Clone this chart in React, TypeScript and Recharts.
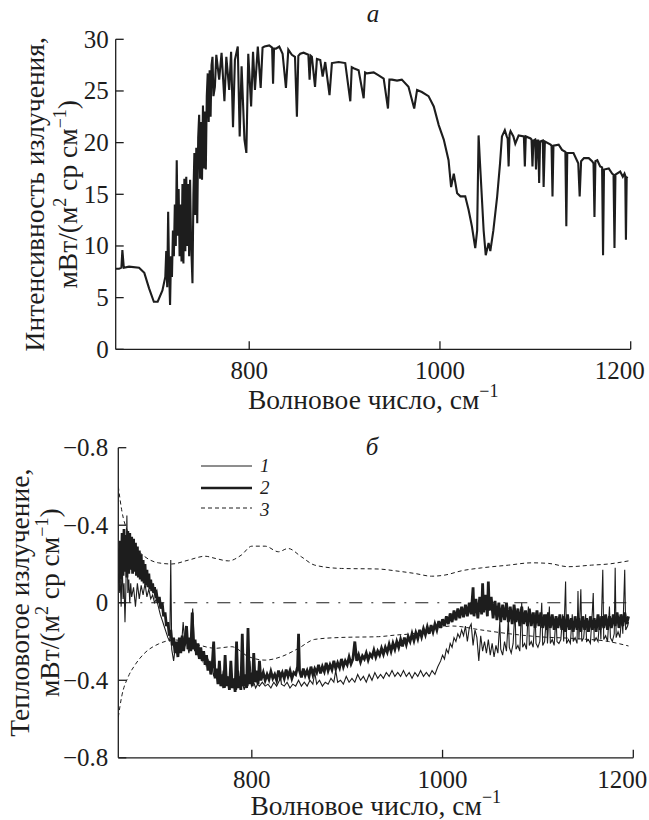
import React from 'react';
import { LineChart, Line, XAxis, YAxis } from 'recharts';

// panel a: radiance spectrum
const topWave = [
  660, 663.5, 666, 667, 668.5, 674, 684.5, 690, 695, 700, 704, 709,
  712, 713, 714, 715, 716, 717, 718, 719, 720, 721, 722, 723, 724, 725, 726, 727, 728, 729, 730,
  731, 732, 733, 734, 735, 736, 737, 738, 739, 740.5, 741.5, 742.5, 743.5, 744.5, 745.5, 746.5,
  747.5, 748.5, 749.5, 750.5, 751.5, 752.5, 753.5, 754.5, 755.5, 756.5, 757.5, 758.5, 759.5, 760.5,
  761.5, 762.5, 764, 765.5, 768.5, 771, 774, 776, 779, 781, 783, 785, 788, 790, 792, 795, 797, 799,
  802, 804, 806, 809, 812, 814, 816, 821, 824, 825, 826, 828, 831.5, 835, 838.5, 841, 844.7, 848,
  850, 851.5, 853.5, 857, 862, 863.3, 864.5, 865.7, 869, 871, 874.5, 877, 879.7, 884.2, 886.7,
  893.7, 900.7, 906, 907.5, 909.5, 914.7, 920, 921.5, 923.5, 930.5, 935.7, 941, 945.5, 947, 949.7,
  955, 960, 967, 973, 976, 981, 988, 993.5, 998.7, 1004, 1009, 1011.7, 1014.5, 1018, 1021.5,
  1026.5, 1030, 1033.5, 1037, 1039, 1040.5, 1042, 1045.8, 1048, 1051, 1052.8, 1056, 1060, 1063,
  1065, 1068, 1070, 1071, 1072, 1073, 1074, 1077, 1079, 1082.5, 1088, 1089, 1090, 1095, 1096, 1097,
  1098, 1099.8, 1100.7, 1102, 1103, 1104, 1105, 1107.8, 1108.7, 1110, 1116, 1117, 1118, 1119,
  1124.5, 1128, 1131.5, 1132.5, 1133.5, 1140, 1144, 1145, 1146.5, 1148, 1151, 1156, 1159.5, 1161,
  1162, 1163, 1165, 1168, 1170, 1171, 1172, 1177, 1180.5, 1182, 1183, 1184, 1189, 1191.7, 1193.5,
  1194.3, 1195, 1195.8, 1196.6,
];
const topIntensity = [
  7.8, 7.8, 7.9, 9.6, 7.9, 8.0, 7.9, 7.4, 5.9, 4.6, 4.6, 5.7,
  7.0, 9.5, 6.0, 13.3, 7.5, 4.3, 9.0, 7.0, 11.5, 9.0, 14.0, 10.0, 18.3, 11.0, 15.5, 9.0, 14.0, 8.5, 16.0,
  8.3, 16.5, 9.5, 16.7, 10.0, 16.0, 9.0, 16.4, 10.5, 6.4, 15.0, 19.0, 13.0, 19.5, 12.2, 20.5,
  22.7, 16.5, 22.0, 16.4, 23.6, 17.5, 23.0, 17.4, 24.5, 26.7, 22.0, 27.0, 22.5, 27.5,
  28.3, 24.5, 25.4, 28.5, 26.1, 28.7, 24.0, 28.3, 25.1, 28.8, 21.5, 28.0, 29.3, 20.6, 27.4, 20.3, 19.0, 28.6,
  23.5, 28.8, 25.1, 29.3, 25.3, 29.2, 29.3, 29.4, 29.2, 25.7, 29.1, 29.1, 29.3, 28.6, 25.3, 29.0, 28.5, 28.3,
  22.5, 28.4, 28.6, 28.7, 28.5, 26.1, 28.4, 28.3, 25.4, 28.1, 28.0, 26.4, 27.8, 24.6, 27.7,
  27.8, 27.7, 24.0, 27.3, 27.2, 27.0, 24.3, 26.8, 26.7, 26.8, 26.5, 26.2, 23.3, 26.1, 26.1,
  26.0, 26.1, 25.4, 23.3, 25.1, 24.9, 24.5, 23.5, 21.7, 20.3, 18.3, 15.7, 17.0, 15.1, 14.8,
  14.8, 13.5, 11.9, 9.8, 11.5, 20.7, 18.0, 11.5, 9.1, 10.3, 9.5, 11.5, 14.8, 18.0,
  20.6, 21.2, 20.6, 20.4, 17.7, 20.8, 21.1, 20.6, 19.9, 20.7, 20.6, 17.7, 20.6, 20.4, 20.3, 17.7,
  20.2, 20.3, 17.4, 20.2, 20.2, 16.1, 20.1, 20.2, 15.7, 20.1, 19.8, 19.7, 14.8, 19.7,
  19.8, 19.3, 19.1, 11.9, 19.0, 19.0, 18.2, 18.0, 14.8, 18.2, 18.5, 18.5, 18.2, 18.0,
  12.8, 18.2, 18.3, 17.7, 17.6, 9.1, 17.4, 17.5, 17.0, 16.9, 9.8, 16.9, 17.2, 16.7, 17.0,
  16.8, 10.6, 16.6, 16.7,
];

// panel б: curve 1 (thin)
const curve1Wave = [
  660, 661, 662, 663, 664, 665, 666, 667, 668, 669, 670, 671, 672, 673, 674, 676, 678, 680, 682, 684,
  686, 688, 690, 692, 694, 696, 698, 700, 702, 704, 706, 708, 710, 712, 714, 715, 716, 718, 720, 722,
  724, 726, 728, 730, 732, 734, 736, 738, 740, 742, 744, 746, 748, 750, 752, 754, 756, 758, 760, 762,
  764, 766, 768, 770, 772, 774, 776, 778, 780, 782, 784, 786, 788, 790, 792, 794, 796, 798, 800, 802,
  804, 806, 808, 811, 814, 817, 820, 823, 826, 829, 830, 831, 834, 837, 840, 843, 846, 849, 852, 855,
  858, 861, 864, 866, 868, 871, 874, 877, 880, 883, 886, 888, 890, 893, 896, 899, 902, 905, 908, 911,
  914, 917, 920, 923, 926, 929, 932, 935, 938, 941, 944, 947, 950, 953, 956, 959, 962, 965, 968, 971,
  974, 977, 980, 983, 986, 989, 992, 995, 998, 1000, 1002, 1004, 1006, 1008, 1010, 1012, 1014, 1016,
  1018, 1020, 1022, 1024, 1026, 1028, 1030, 1032, 1034, 1036, 1038, 1040, 1042, 1044, 1046, 1048,
  1050, 1052, 1054, 1056, 1058, 1060, 1061, 1063, 1065, 1067, 1069, 1070, 1072, 1074, 1076, 1077,
  1079, 1081, 1083, 1084, 1086, 1088, 1090, 1091, 1093, 1095, 1097, 1098, 1100, 1102, 1104, 1105,
  1107, 1109, 1110, 1112, 1113, 1115, 1117, 1119, 1120, 1122, 1124, 1126, 1127, 1129, 1130, 1132,
  1134, 1136, 1137, 1139, 1141, 1142, 1143, 1145, 1146, 1148, 1150, 1151, 1153, 1155, 1157, 1158,
  1159, 1161, 1163, 1165, 1166, 1168, 1169, 1171, 1173, 1175, 1176, 1178, 1180, 1181, 1182, 1184,
  1186, 1188, 1189, 1191, 1192, 1194, 1195,
];
const curve1Value = [
  0.15, 0.05, 0.12, -0.02, 0.24, 0.02, 0.1, -0.1, 0.08, 0.45, 0.05, 0.12, 0.0, 0.1, 0.03, 0.08, -0.02, 0.1, 0.02, 0.09,
  0.04, 0.1, 0.03, 0.07, 0.02, 0.04, 0.0, 0.02, -0.02, -0.06, -0.09, -0.12, -0.15, -0.18, -0.2, 0.22, -0.24, -0.3, -0.22, -0.27,
  -0.2, -0.24, -0.1, -0.22, -0.2, -0.26, -0.21, -0.03, -0.25, -0.22, -0.28, -0.25, -0.3, -0.27, -0.32, -0.29, -0.35, -0.32, -0.38, -0.34,
  -0.4, -0.36, -0.43, -0.35, -0.44, -0.38, -0.43, -0.32, -0.44, -0.4, -0.45, -0.35, -0.43, -0.41, -0.45, -0.4, -0.43, -0.3, -0.43, -0.41,
  -0.44, -0.42, -0.43, -0.41, -0.43, -0.42, -0.44, -0.41, -0.43, -0.4, -0.36, -0.42, -0.43, -0.41, -0.44, -0.42, -0.43, -0.4, -0.43, -0.41,
  -0.43, -0.4, -0.42, -0.36, -0.42, -0.4, -0.43, -0.41, -0.42, -0.39, -0.41, -0.35, -0.41, -0.4, -0.42, -0.38, -0.41, -0.39, -0.41, -0.37,
  -0.4, -0.38, -0.41, -0.37, -0.4, -0.36, -0.39, -0.37, -0.39, -0.36, -0.38, -0.35, -0.38, -0.36, -0.38, -0.35, -0.38, -0.36, -0.39, -0.36,
  -0.38, -0.35, -0.38, -0.36, -0.38, -0.35, -0.37, -0.33, -0.3, -0.27, -0.29, -0.24, -0.26, -0.21, -0.23, -0.18, -0.2, -0.16,
  -0.18, -0.14, -0.17, -0.12, -0.2, -0.13, -0.11, -0.22, -0.14, -0.18, -0.3, -0.17, -0.25, -0.2, -0.26, -0.19,
  -0.27, -0.21, -0.28, -0.22, -0.26, -0.1, -0.24, -0.27, -0.2, -0.25, -0.08, -0.23, -0.26, -0.21, -0.03, -0.24,
  -0.22, -0.25, 0.0, -0.23, -0.21, -0.24, -0.02, -0.22, -0.2, -0.23, -0.05, -0.21, -0.23, -0.2, 0.0, -0.22,
  -0.2, -0.06, -0.21, -0.02, -0.21, -0.19, -0.22, -0.07, -0.2, -0.21, -0.19, -0.06, -0.2, 0.11, -0.21, -0.19,
  -0.21, -0.06, -0.2, -0.18, -0.21, 0.06, -0.19, 0.07, -0.2, -0.18, -0.06, -0.2, -0.19, -0.21, -0.05, 0.05,
  -0.2, -0.18, -0.2, -0.07, -0.19, 0.17, -0.19, -0.17, -0.2, -0.02, -0.18, -0.2, -0.16, 0.18, -0.18, -0.15,
  -0.18, -0.06, -0.16, 0.17, -0.14, -0.12, -0.1,
];

// panel б: curve 2 (thick)
const curve2Wave = [
  660, 661, 662, 663, 664, 665, 666, 667, 668, 669, 670, 671, 672, 673, 674, 675, 676, 677, 678, 679,
  680, 681, 682, 683, 684, 685, 686, 687, 688, 689, 690, 691, 692, 693, 694, 695, 696, 697, 698, 699,
  700, 701.5, 703, 704.5, 706, 707.5, 709, 710.5, 712, 713.5, 715, 716.5, 718, 719.5, 721, 722.5, 724,
  725.5, 727, 728.5, 730, 731.5, 733, 734.5, 736, 737.5, 739, 740.5, 742, 743.5, 745, 746.5, 748, 749.5,
  751, 752.5, 754, 755.5, 757, 758.5, 760, 761.5, 763, 764.5, 766, 767.5, 769, 770.5, 772, 773.5, 775,
  776.5, 778, 779.5, 781, 782.5, 784, 785.5, 787, 788.5, 790, 791.5, 793, 794.5, 796, 797.5, 799, 800.5,
  802, 803.5, 805, 806.5, 808, 809.5,
  812, 814, 816, 818, 820, 822, 824, 826, 828, 830, 832, 834, 836, 838, 840, 842, 844, 846, 848, 849,
  850, 852, 854, 856, 858, 860, 862, 864, 866, 868, 870, 872, 874, 876, 878, 880, 882, 884, 886, 888,
  890, 892, 894, 896, 898, 900, 902, 904, 906, 908, 910, 912, 914, 916, 918, 920, 922, 924, 926, 928,
  930, 932, 934, 936, 938, 940, 942, 944, 946, 948, 950, 952, 954, 956, 958, 960, 962, 964, 966, 968,
  970, 972, 974, 976, 978, 980, 982, 984, 986, 988, 990, 992, 994, 996, 998, 1000, 1002, 1004, 1006, 1008,
  1010, 1012, 1014, 1016, 1018, 1020, 1022, 1024, 1026, 1028, 1030, 1032, 1033, 1035, 1037, 1039, 1041,
  1042, 1043, 1045, 1047, 1048, 1049, 1051, 1053, 1055, 1057, 1059, 1061, 1063, 1065, 1067, 1069, 1071,
  1073, 1075, 1077, 1079, 1081, 1083, 1085, 1087, 1089, 1091, 1093, 1095, 1097, 1099, 1101, 1103, 1105,
  1107, 1109, 1111, 1113, 1115, 1117, 1119, 1121, 1123, 1125, 1127, 1129, 1131, 1133, 1135, 1137, 1139,
  1141, 1143, 1145, 1147, 1149, 1151, 1153, 1155, 1157, 1159, 1161, 1163, 1165, 1167, 1169, 1171, 1173,
  1175, 1177, 1179, 1181, 1183, 1185, 1187, 1189, 1191, 1193, 1195,
];
const curve2Value = [
  0.28, 0.1, 0.32, 0.12, 0.36, 0.14, 0.38, 0.16, 0.35, 0.13, 0.37, 0.15, 0.36, 0.17, 0.34, 0.15, 0.33, 0.16, 0.31, 0.14,
  0.29, 0.13, 0.27, 0.12, 0.25, 0.11, 0.22, 0.1, 0.2, 0.09, 0.17, 0.08, 0.15, 0.07, 0.12, 0.06, 0.1, 0.05, 0.08, 0.04,
  0.05, 0.0, 0.03, -0.03, 0.0, -0.07, -0.05, -0.12, -0.1, -0.17, -0.14, -0.22, -0.18, -0.26, -0.2, -0.28, -0.18,
  -0.26, -0.17, -0.25, -0.19, -0.12, -0.24, -0.18, -0.25, -0.05, -0.24, -0.19, -0.27, -0.21, -0.29, -0.23, -0.3, -0.25,
  -0.32, -0.27, -0.35, -0.3, -0.37, -0.32, -0.2, -0.39, -0.34, -0.42, -0.3, -0.43, -0.37, -0.44, -0.27, -0.43, -0.38,
  -0.45, -0.3, -0.44, -0.39, -0.46, -0.2, -0.44, -0.38, -0.45, -0.16, -0.43, -0.37, -0.44, -0.13, -0.42, -0.36, -0.43,
  -0.26, -0.41, -0.35, -0.42, -0.3, -0.4,
  -0.36, -0.4, -0.37, -0.395, -0.355, -0.39, -0.37, -0.4, -0.35, -0.385, -0.36, -0.39, -0.345, -0.38, -0.35, -0.39, -0.36, -0.37, -0.33, -0.16,
  -0.35, -0.385, -0.34, -0.375, -0.35, -0.38, -0.33, -0.37, -0.34, -0.36, -0.32, -0.365, -0.33, -0.355, -0.31, -0.35, -0.32, -0.345, -0.3, -0.34,
  -0.31, -0.335, -0.29, -0.33, -0.3, -0.32, -0.28, -0.315, -0.29, -0.2, -0.3, -0.27, -0.305, -0.275, -0.29, -0.26, -0.295, -0.265, -0.28, -0.245,
  -0.28, -0.25, -0.27, -0.235, -0.265, -0.23, -0.255, -0.215, -0.25, -0.21, -0.24, -0.2, -0.23, -0.19, -0.225, -0.18, -0.215, -0.175, -0.2, -0.16,
  -0.195, -0.155, -0.185, -0.14, -0.175, -0.135, -0.165, -0.125, -0.16, -0.115, -0.15, -0.11, -0.14, -0.095, -0.13, -0.085, -0.12, -0.07, -0.11, -0.055,
  -0.1, -0.04, -0.09, -0.03, -0.08, -0.02, -0.075, -0.01, -0.07, 0.0, -0.06, 0.08, -0.07, 0.02, -0.08, 0.03, -0.06,
  0.1, -0.05, 0.04, -0.07, 0.11, -0.04, 0.03, -0.08, 0.01, -0.09, 0.0, -0.1, -0.01, -0.09, 0.0, -0.1, -0.02,
  -0.11, -0.01, -0.1, -0.03, -0.12, -0.02, -0.11, -0.04, -0.12, -0.03, -0.12, -0.05, -0.13, -0.04, -0.12, -0.05, -0.13,
  -0.06, -0.14, -0.05, -0.13, -0.06, -0.14, -0.07, -0.13, -0.06, -0.14, -0.07, -0.15, -0.06, -0.14, -0.08, -0.15, -0.07,
  -0.14, -0.08, -0.15, -0.07, -0.14, -0.08, -0.15, -0.07, -0.14, -0.08, -0.15, -0.06, -0.14, -0.07, -0.13, -0.06, -0.14,
  -0.07, -0.13, -0.06, -0.12, -0.05, -0.13, -0.06, -0.12, -0.05, -0.11, -0.07,
];

// panel б: curves 3 (upper and lower dashed)
const bandUpperWave = [
  660, 663.5, 670.5, 677.5, 688, 702, 716, 733.5, 751, 761.5, 775.5, 789, 800, 814, 828, 838, 852,
  866, 894, 933, 950, 971, 988.6, 1002.6, 1020, 1041, 1069, 1093.5, 1111, 1132, 1156, 1174, 1195,
];
const bandUpperValue = [
  0.6, 0.48, 0.357, 0.289, 0.237, 0.206, 0.2, 0.22, 0.24, 0.229, 0.216, 0.246, 0.292, 0.292, 0.263, 0.28, 0.237,
  0.194, 0.177, 0.174, 0.165, 0.151, 0.137, 0.143, 0.165, 0.18, 0.194, 0.206, 0.203, 0.186, 0.194, 0.2, 0.216,
];
const bandLowerWave = [
  660, 663.5, 670.5, 677.5, 688, 702, 719.5, 744, 761.5, 779, 796.5, 814, 831, 849, 866, 894, 933,
  950, 971, 985, 1010, 1040, 1070, 1100, 1140, 1174, 1195,
];
const bandLowerValue = [
  -0.59, -0.485, -0.381, -0.321, -0.258, -0.213, -0.192, -0.218, -0.235, -0.227, -0.278, -0.296, -0.278, -0.235, -0.189, -0.179, -0.175,
  -0.167, -0.158, -0.141, -0.12, -0.14, -0.16, -0.175, -0.185, -0.2, -0.223,
];
const zeroWave = [660, 1195];
const zeroValue = [0, 0];

const xTicks = [800, 1000, 1200];
const topYTicks = [0, 5, 10, 15, 20, 25, 30];
const bottomYTicks = [-0.8, -0.4, 0, 0.4, 0.8];
const legendLabels = ['1', '2', '3'];

const rows = (xs: number[], ys: number[]) => xs.map((w, i) => ({ w, v: ys[i] }));

const FONT = "'Liberation Serif', 'Times New Roman', serif";
const INK = '#1d1d1d';
const FS = 25;
const TITLE_FS = 27.5;

const fmtBottom = (v: number) => (v === 0 ? '0' : '\u2212' + Math.abs(v).toFixed(1));

const YTick = (props: any) => {
  const { x, y, payload, gap, fmt } = props;
  return (
    <g>
      <line x1={x} x2={x + 8} y1={y} y2={y} stroke={INK} strokeWidth={1.3} />
      <text x={x - gap} y={y + 8.5} textAnchor="end" fontFamily={FONT} fontSize={FS} fill={INK}>
        {fmt ? fmt(payload.value) : payload.value}
      </text>
    </g>
  );
};

const XTick = (props: any) => {
  const { x, y, payload } = props;
  const shift = payload.value === 1200 ? -11 : 0;
  return (
    <g>
      <line x1={x} x2={x} y1={y} y2={y - 8} stroke={INK} strokeWidth={1.3} />
      <text x={x + shift} y={y + 30} textAnchor="middle" fontFamily={FONT} fontSize={FS} fill={INK}>
        {payload.value}
      </text>
    </g>
  );
};

const makeXTitle = (drop: number) => (props: any) => {
  const { viewBox } = props;
  const cx = viewBox.x + viewBox.width / 2;
  return (
    <text x={cx} y={viewBox.y + drop} textAnchor="middle" fontFamily={FONT} fontSize={TITLE_FS} fill={INK}>
      Волновое число, см<tspan dy={-12} fontSize={18}>−1</tspan>
    </text>
  );
};

const makeYTitle = (line1: string, x1: number, x2: number) => (props: any) => {
  const { viewBox } = props;
  const cy = viewBox.y + viewBox.height / 2;
  return (
    <g fontFamily={FONT} fontSize={TITLE_FS} fill={INK}>
      <text x={x1} y={cy} textAnchor="middle" transform={`rotate(-90, ${x1}, ${cy})`}>
        {line1}
      </text>
      <text x={x2} y={cy} textAnchor="middle" transform={`rotate(-90, ${x2}, ${cy})`}>
        мВт/(м<tspan dy={-11} fontSize={18}>2</tspan>
        <tspan dy={11}> ср см</tspan>
        <tspan dy={-11} fontSize={18}>−1</tspan>
        <tspan dy={11}>)</tspan>
      </text>
    </g>
  );
};

const App: React.FC = () => {
  return (
    <div style={{ position: 'absolute', left: 0, top: 0, width: 649, height: 820, background: '#fff' }}>
      <div style={{ position: 'absolute', left: 0, top: 0 }}>
        <LineChart width={649} height={420} margin={{ top: 39.3, right: 18.3, bottom: 0, left: 0 }}>
          <XAxis
            type="number"
            dataKey="w"
            domain={[660, 1200]}
            ticks={xTicks}
            interval={0}
            allowDataOverflow
            height={70.7}
            tickSize={0}
            tickMargin={0}
            tickLine={false}
            axisLine={{ stroke: INK, strokeWidth: 1.3 }}
            tick={(p: any) => <XTick {...p} />}
            label={makeXTitle(60)}
          />
          <YAxis
            type="number"
            dataKey="v"
            domain={[0, 30]}
            ticks={topYTicks}
            interval={0}
            width={115.7}
            tickSize={0}
            tickMargin={0}
            tickLine={false}
            axisLine={{ stroke: INK, strokeWidth: 1.3 }}
            tick={(p: any) => <YTick {...p} gap={7} />}
            label={makeYTitle('Интенсивность излучения,', 44, 77)}
          />
          <Line
            data={rows(topWave, topIntensity)}
            dataKey="v"
            type="linear"
            stroke={INK}
            strokeWidth={2.1}
            dot={false}
            isAnimationActive={false}
          />
        </LineChart>
      </div>
      <div style={{ position: 'absolute', left: 0, top: 410 }}>
        <LineChart width={649} height={410} margin={{ top: 37.7, right: 15.7, bottom: 0, left: 0 }}>
          <XAxis
            type="number"
            dataKey="w"
            domain={[660, 1200]}
            ticks={xTicks}
            interval={0}
            allowDataOverflow
            height={62.2}
            tickSize={0}
            tickMargin={0}
            tickLine={false}
            axisLine={{ stroke: INK, strokeWidth: 1.3 }}
            tick={(p: any) => <XTick {...p} />}
            label={makeXTitle(57.5)}
          />
          <YAxis
            type="number"
            dataKey="v"
            domain={[-0.8, 0.8]}
            ticks={bottomYTicks}
            interval={0}
            width={118.3}
            tickSize={0}
            tickMargin={0}
            tickLine={false}
            axisLine={{ stroke: INK, strokeWidth: 1.3 }}
            tick={(p: any) => <YTick {...p} gap={10} fmt={fmtBottom} />}
            label={makeYTitle('Тепловогое излучение,', 29, 59)}
          />
          <Line data={rows(zeroWave, zeroValue)} dataKey="v" type="linear" stroke={INK} strokeWidth={1}
            strokeDasharray="13 9 2 9" dot={false} isAnimationActive={false} />
          <Line data={rows(bandUpperWave, bandUpperValue)} dataKey="v" type="monotone" stroke={INK} strokeWidth={1}
            strokeDasharray="4 3" dot={false} isAnimationActive={false} />
          <Line data={rows(bandLowerWave, bandLowerValue)} dataKey="v" type="monotone" stroke={INK} strokeWidth={1}
            strokeDasharray="4 3" dot={false} isAnimationActive={false} />
          <Line data={rows(curve1Wave, curve1Value)} dataKey="v" type="linear" stroke={INK} strokeWidth={1.1}
            dot={false} isAnimationActive={false} />
          <Line data={rows(curve2Wave, curve2Value)} dataKey="v" type="linear" stroke={INK} strokeWidth={2.8}
            dot={false} isAnimationActive={false} />
        </LineChart>
      </div>
      <svg width={649} height={820} style={{ position: 'absolute', left: 0, top: 0, pointerEvents: 'none' }}>
        <g fontFamily={FONT} fill={INK} fontStyle="italic">
          <text x={373} y={22} fontSize={FS} textAnchor="middle">а</text>
          <text x={372} y={455} fontSize={FS} textAnchor="middle">б</text>
          <line x1={201} x2={252} y1={466} y2={466} stroke={INK} strokeWidth={1} />
          <line x1={201} x2={252} y1={488} y2={488} stroke={INK} strokeWidth={2.6} />
          <line x1={201} x2={252} y1={508} y2={508} stroke={INK} strokeWidth={1} strokeDasharray="4 3" />
          {legendLabels.map((t, i) => (
            <text key={t} x={260} y={471.5 + i * 22} fontSize={19}>{t}</text>
          ))}
        </g>
      </svg>
    </div>
  );
};

export default App;
